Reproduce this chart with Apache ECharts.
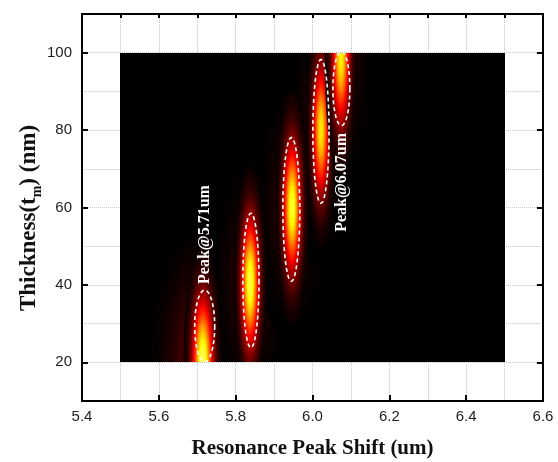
<!DOCTYPE html>
<html><head><meta charset="utf-8">
<script src="https://cdn.jsdelivr.net/npm/echarts@6/dist/echarts.min.js"></script>
<style>html,body{margin:0;padding:0;background:#fff}#c{width:558px;height:462px}</style>
</head><body><div id="c"></div>
<script>
// ---- axes ----
const xRange = [5.4, 6.6];
const yRange = [10, 110];
const xTickValues = [5.4, 5.6, 5.8, 6.0, 6.2, 6.4, 6.6];
const yTickValues = [20, 40, 60, 80, 100];
const fieldX = [5.5, 6.5];
const fieldY = [20, 100];
// ---- resonance peaks (glow) ----
const peakPos   = [5.715, 5.838, 5.947, 6.022, 6.074];
const peakThk   = [20, 40.5, 60, 80, 99];
const peakHalfW = [0.05, 0.043, 0.043, 0.04, 0.042];
const peakHalfH = [31, 31, 31, 31, 32];
const peakLevel = [0.84, 0.82, 0.8, 0.72, 0.74];
const haloHalfW = [0.15, 0.1, 0.1, 0.09, 0.09];
const haloHalfH = [40, 36, 36, 36, 36];
const haloLevel = [0.22, 0.13, 0.13, 0.11, 0.12];
// ---- dashed rings ----
const ringX  = [5.720, 5.840, 5.945, 6.022, 6.075];
const ringY  = [29.3, 41.1, 59.5, 79.7, 90.8];
const ringRx = [0.026, 0.021, 0.022, 0.021, 0.022];
const ringRy = [9.3, 17.4, 18.6, 18.6, 9.6];
// ---- annotations ----
const noteText = ['Peak@5.71um', 'Peak@6.07um'];
const noteX = [5.72, 6.077];
const noteY = [53, 66.5];

const W = 558, H = 462;
const G = {left: 82, right: 15, top: 14, bottom: 61};
const plotW = W - G.left - G.right, plotH = H - G.top - G.bottom;
const fLeft = Math.round(G.left + (fieldX[0] - xRange[0]) / (xRange[1] - xRange[0]) * plotW);
const fRight = Math.round(G.left + (fieldX[1] - xRange[0]) / (xRange[1] - xRange[0]) * plotW);
const fTop = Math.round(G.top + (yRange[1] - fieldY[1]) / (yRange[1] - yRange[0]) * plotH);
const fBot = Math.round(G.top + (yRange[1] - fieldY[0]) / (yRange[1] - yRange[0]) * plotH);

function clamp(v){ return Math.max(0, Math.min(1, v)); }
function hot(v){
  const r = clamp(v / 0.365), g = clamp((v - 0.365) / 0.38), b = clamp((v - 0.745) / 0.255);
  return 'rgb(' + Math.round(r*255) + ',' + Math.round(g*255) + ',' + Math.round(b*255) + ')';
}
function grad(level, halo){
  const stops = [];
  for (let k = 0; k <= 20; k++) {
    const o = k / 20;
    const v = halo ? level * (1 - o) * (1 - o) : level * Math.exp(-4 * o * o);
    stops.push({offset: o, color: k === 20 ? 'rgb(0,0,0)' : hot(v)});
  }
  return {type: 'radial', x: 0.5, y: 0.5, r: 0.5, colorStops: stops};
}
function glowItem(api){
  const c = api.coord([api.value(0), api.value(1)]);
  const s = api.size([api.value(2), api.value(3)]);
  return {c, s};
}

const chart = echarts.init(document.getElementById('c'), null, {renderer: 'canvas'});
const tickLabelStyle = {fontFamily: 'Liberation Sans', fontSize: 15, color: '#222'};

chart.setOption({
  animation: false,
  backgroundColor: '#fff',
  grid: [
    {left: G.left, right: G.right, top: G.top, bottom: G.bottom},
    {left: G.left, right: G.right, top: G.top, bottom: G.bottom},
    {left: fLeft, width: fRight - fLeft, top: fTop, height: fBot - fTop}
  ],
  xAxis: [
    {gridIndex: 0, type: 'value', position: 'bottom', min: xRange[0], max: xRange[1], interval: 0.2,
     axisLine: {lineStyle: {color: '#000', width: 2}},
     axisTick: {inside: true, length: 6, lineStyle: {color: '#000', width: 2}, customValues: xTickValues},
     axisLabel: Object.assign({margin: 8, customValues: xTickValues, formatter: v => Number(v).toFixed(1)}, tickLabelStyle),
     splitLine: {show: false}},
    {gridIndex: 0, type: 'value', position: 'top', min: xRange[0], max: xRange[1], interval: 0.1,
     axisLine: {lineStyle: {color: '#000', width: 2}},
     axisTick: {inside: true, length: 4, lineStyle: {color: '#000', width: 2}},
     axisLabel: {show: false}, splitLine: {show: false}},
    {gridIndex: 1, type: 'value', min: xRange[0], max: xRange[1], interval: 0.1,
     axisLine: {show: false}, axisTick: {show: false}, axisLabel: {show: false},
     splitLine: {show: true, lineStyle: {color: '#c4c4c4', width: 1, type: 'dotted'}}},
    {gridIndex: 2, type: 'value', min: fieldX[0], max: fieldX[1], show: false}
  ],
  yAxis: [
    {gridIndex: 0, type: 'value', position: 'left', min: yRange[0], max: yRange[1], interval: 10,
     axisLine: {lineStyle: {color: '#000', width: 2}},
     axisTick: {inside: true, length: 6, lineStyle: {color: '#000', width: 2}, customValues: yTickValues},
     axisLabel: Object.assign({margin: 10, customValues: yTickValues}, tickLabelStyle),
     splitLine: {show: false}},
    {gridIndex: 0, type: 'value', position: 'right', min: yRange[0], max: yRange[1], interval: 10,
     axisLine: {lineStyle: {color: '#000', width: 2}},
     axisTick: {inside: true, length: 6, lineStyle: {color: '#000', width: 2}, customValues: yTickValues},
     axisLabel: {show: false}, splitLine: {show: false}},
    {gridIndex: 1, type: 'value', min: yRange[0], max: yRange[1], interval: 10,
     axisLine: {show: false}, axisTick: {show: false}, axisLabel: {show: false},
     splitLine: {show: true, lineStyle: {color: '#c4c4c4', width: 1, type: 'dotted'}}},
    {gridIndex: 2, type: 'value', min: fieldY[0], max: fieldY[1], show: false}
  ],
  graphic: [
    {type: 'text', x: (G.left + W - G.right) / 2, y: 449, silent: true,
     style: {text: 'Resonance Peak Shift (um)', fontFamily: 'Liberation Serif', fontWeight: 'bold',
             fontSize: 21, fill: '#111', align: 'center', verticalAlign: 'middle'}},
    {type: 'text', x: 29, y: 218, rotation: Math.PI / 2, silent: true,
     style: {text: 'Thickness(t{sub|m}) (nm)', fontFamily: 'Liberation Serif', fontWeight: 'bold',
             fontSize: 23, lineHeight: 30, fill: '#111', align: 'center', verticalAlign: 'middle',
             rich: {sub: {fontFamily: 'Liberation Serif', fontWeight: 'bold', fontSize: 14, lineHeight: 14,
                          verticalAlign: 'bottom', fill: '#111'}}}}
  ],
  series: [
    {type: 'custom', xAxisIndex: 3, yAxisIndex: 3, clip: true, silent: true, data: [[fieldX[0], fieldY[0]]],
     renderItem: (p, api) => ({type: 'rect', shape: {x: p.coordSys.x, y: p.coordSys.y,
        width: p.coordSys.width, height: p.coordSys.height}, style: {fill: '#000'}})},
    {type: 'custom', xAxisIndex: 3, yAxisIndex: 3, clip: true, silent: true,
     data: peakPos.map((x, i) => [x, peakThk[i], haloHalfW[i], haloHalfH[i], haloLevel[i]]),
     renderItem: (p, api) => { const g = glowItem(api); return {type: 'circle', x: g.c[0], y: g.c[1],
        scaleX: g.s[0], scaleY: g.s[1], shape: {cx: 0, cy: 0, r: 1},
        style: {fill: grad(api.value(4), true), blend: 'lighter'}}; }},
    {type: 'custom', xAxisIndex: 3, yAxisIndex: 3, clip: true, silent: true,
     data: peakPos.map((x, i) => [x, peakThk[i], peakHalfW[i], peakHalfH[i], peakLevel[i]]),
     renderItem: (p, api) => { const g = glowItem(api); return {type: 'circle', x: g.c[0], y: g.c[1],
        scaleX: g.s[0], scaleY: g.s[1], shape: {cx: 0, cy: 0, r: 1},
        style: {fill: grad(api.value(4), false), blend: 'lighter'}}; }},
    {type: 'custom', xAxisIndex: 3, yAxisIndex: 3, clip: true, silent: true,
     data: ringX.map((x, i) => [x, ringY[i], ringRx[i], ringRy[i]]),
     renderItem: (p, api) => {
       const c = api.coord([api.value(0), api.value(1)]);
       const s = api.size([api.value(2), api.value(3)]);
       const pts = [];
       for (let k = 0; k < 90; k++) { const a = k / 90 * Math.PI * 2; pts.push([c[0] + s[0] * Math.cos(a), c[1] + s[1] * Math.sin(a)]); }
       return {type: 'polygon', shape: {points: pts},
               style: {fill: 'none', stroke: '#fff', lineWidth: 1.6, lineDash: [4, 3]}};
     }},
    {type: 'custom', xAxisIndex: 3, yAxisIndex: 3, clip: false, silent: true,
     data: noteX.map((x, i) => [x, noteY[i]]),
     renderItem: (p, api) => {
       const c = api.coord([api.value(0), api.value(1)]);
       return {type: 'text', x: c[0], y: c[1], rotation: Math.PI / 2,
               style: {text: noteText[p.dataIndex], fill: '#fff', fontFamily: 'Liberation Serif',
                       fontWeight: 'bold', fontSize: 16, align: 'center', verticalAlign: 'middle'}};
     }}
  ]
});
</script></body></html>
